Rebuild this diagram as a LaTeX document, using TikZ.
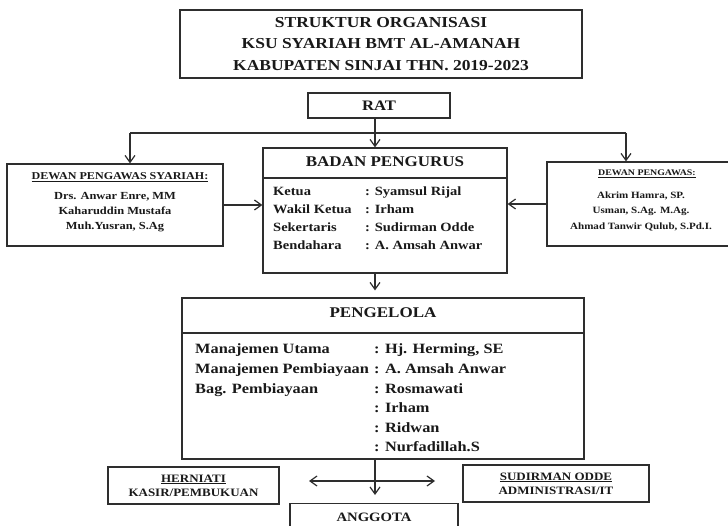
\documentclass[tikz,border=0pt]{standalone}
\usepackage{fontspec}
\setmainfont[FakeStretch=1.15]{Liberation Serif}
\usetikzlibrary{arrows.meta}
\definecolor{tinta}{rgb}{0.1,0.1,0.1}
\definecolor{bingkai}{rgb}{0.18,0.18,0.18}
\tikzset{
  kotak/.style={
    draw=bingkai,
    line width=1.2pt,
    inner sep=0pt,
    text=tinta
  },
  judul/.style={
    font=\bfseries\fontsize{15.2}{21.5}\selectfont,
    align=center
  },
  kepala/.style={
    font=\bfseries\fontsize{14.8}{18}\selectfont,
    text=tinta,
    inner sep=0pt
  },
  subjudul/.style={
    font=\bfseries\fontsize{10.5}{14}\selectfont,
    text=tinta,
    inner sep=0pt
  },
  nama/.style={
    font=\bfseries\fontsize{10.8}{15}\selectfont,
    align=center,
    text=tinta,
    inner sep=0pt
  },
  isi/.style={
    font=\bfseries\fontsize{12.6}{18}\selectfont,
    text=tinta,
    inner sep=0pt
  },
  isibesar/.style={
    font=\bfseries\fontsize{14.2}{19.6}\selectfont,
    text=tinta,
    inner sep=0pt
  },
  kecil/.style={
    font=\bfseries\fontsize{11.3}{14}\selectfont,
    align=center
  },
  garis/.style={
    line width=1.2pt,
    draw=bingkai
  },
  panah/.style={
    -{Straight Barb[length=7pt,width=10pt]},
    garis
  },
  panahdua/.style={
    {Straight Barb[length=7pt,width=10pt]}-{Straight Barb[length=7pt,width=10pt]},
    garis
  }
}

\begin{document}
\begin{tikzpicture}[x=1pt,y=-1pt]
\useasboundingbox (0,0) rectangle (728,526);
\fill[white] (0,0) rectangle (728,526);
% kotak judul dan RAT
\node[kotak,judul,minimum width=402pt,minimum height=68pt] (judul) at (381,44) {STRUKTUR ORGANISASI\\KSU SYARIAH BMT AL-AMANAH\\KABUPATEN SINJAI THN. 2019-2023};
\node[kotak,kepala,font=\bfseries\fontsize{14.5}{18}\selectfont,minimum width=142pt,minimum height=25pt] (rat) at (379,105.5) {RAT};
% dewan pengawas syariah
\node[kotak,minimum width=216pt,minimum height=82pt] (syariah) at (115,205) {};
\node[subjudul] (syariahjudul) at (120,177) {\underline{DEWAN PENGAWAS SYARIAH:}};
\node[nama] (syariahisi) at (115,212) {Drs. Anwar Enre, MM\\Kaharuddin Mustafa\\Muh.Yusran, S.Ag};
% badan pengurus
\node[kotak,minimum width=244pt,minimum height=125pt] (pengurus) at (385,210.5) {};
\coordinate (batasurus) at (385,178);
\node[kepala] (pengurusjudul) at (385,162) {BADAN PENGURUS};
\node[isi,anchor=west] (pengurusisi) at (273,219) {\begin{tabular}{@{}p{92pt}@{}l@{}}
Ketua & : Syamsul Rijal\\
Wakil Ketua & : Irham\\
Sekertaris & : Sudirman Odde\\
Bendahara & : A. Amsah Anwar
\end{tabular}};
% dewan pengawas
\node[kotak,minimum width=192pt,minimum height=84pt] (pengawas) at (643,204) {};
\node[subjudul,font=\bfseries\fontsize{8.6}{12}\selectfont] (pengawasjudul) at (647,174) {\underline{DEWAN PENGAWAS:}};
\node[nama,font=\bfseries\fontsize{9.6}{15.5}\selectfont] (pengawasisi) at (641,211) {Akrim Hamra, SP.\\Usman, S.Ag. M.Ag.\\Ahmad Tanwir Qulub, S.Pd.I.};
% pengelola
\node[kotak,minimum width=402pt,minimum height=161pt] (pengelola) at (383,378.5) {};
\coordinate (bataskelola) at (383,333);
\node[kepala] (pengelolajudul) at (383,313) {PENGELOLA};
\node[isibesar,anchor=west] (pengelolaisi) at (195,399) {\begin{tabular}{@{}p{179pt}@{}l@{}}
Manajemen Utama & : Hj. Herming, SE\\
Manajemen Pembiayaan & : A. Amsah Anwar\\
Bag. Pembiayaan & : Rosmawati\\
 & : Irham\\
 & : Ridwan\\
 & : Nurfadillah.S
\end{tabular}};
% bagian bawah
\node[kotak,kecil,minimum width=171pt,minimum height=37pt] (kasir) at (193.5,485.5) {\underline{HERNIATI}\\KASIR/PEMBUKUAN};
\node[kotak,kecil,minimum width=186pt,minimum height=37pt] (admin) at (556,483.5) {\underline{SUDIRMAN ODDE}\\ADMINISTRASI/IT};
\node[kotak,font=\bfseries\fontsize{12.8}{16}\selectfont,minimum width=168pt,minimum height=28pt,anchor=north] (anggota) at (374,503) {ANGGOTA};
% garis dan panah
\coordinate (cabang) at (375,133);
\coordinate (cabangkiri) at (130,133);
\coordinate (cabangkanan) at (626,133);
\coordinate (ujungkiri) at (309,481);
\coordinate (ujungkanan) at (435,481);
\draw[garis] (pengurus.west |- batasurus) -- (pengurus.east |- batasurus);
\draw[garis] (pengelola.west |- bataskelola) -- (pengelola.east |- bataskelola);
\draw[garis] (rat.south -| cabang) -- (cabang);
\draw[garis] (cabangkiri) -- (cabangkanan);
\draw[panah] (cabangkiri) -- (syariah.north -| cabangkiri);
\draw[panah] (cabang) -- (pengurus.north -| cabang);
\draw[panah] (cabangkanan) -- (pengawas.north -| cabangkanan);
\draw[panah] (syariah.east) -- (syariah.east -| pengurus.west);
\draw[panah] (pengawas.west) -- (pengawas.west -| pengurus.east);
\draw[panah,shorten >=7pt] (pengurus.south -| cabang) -- (pengelola.north -| cabang);
\draw[panah,shorten >=8pt] (pengelola.south -| cabang) -- (anggota.north -| cabang);
\draw[panahdua] (ujungkiri) -- (ujungkanan);
\end{tikzpicture}
\end{document}
